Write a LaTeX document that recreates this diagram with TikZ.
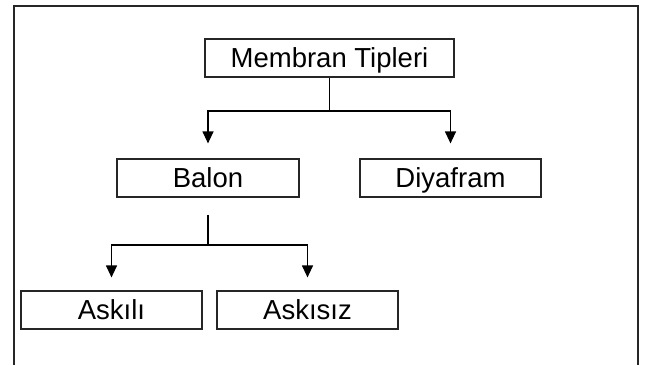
\documentclass[tikz,border=0pt]{standalone}
\usepackage{fontspec}
\setmainfont{Liberation Sans}
\usetikzlibrary{arrows.meta}
\begin{document}
\begin{tikzpicture}[x=1pt,y=-1pt,
  box/.style={draw=black!85, line width=1.2pt, rectangle, minimum height=38pt, inner sep=0pt,
    text height=22pt, text depth=2.3pt,
    font=\fontsize{27.5}{32}\selectfont, text=black},
  conn/.style={draw=black, line width=1.2pt},
  arr/.style={conn, -{Triangle[width=11pt,length=12pt]}}]
\useasboundingbox (0,0) rectangle (656,365);
\fill[white] (0,0) rectangle (656,365);
\draw[line width=2pt, black!85] (14,365) -- (14,6) -- (638,6) -- (638,365);
\node[box, minimum width=249pt] (mt) at (329.5,58) {Membran Tipleri};
\node[box, minimum width=182pt] (balon) at (208,178) {Balon};
\node[box, minimum width=181pt] (diy) at (450.5,178) {Diyafram};
\node[box, minimum width=181pt] (ask1) at (111.5,310) {Askılı};
\node[box, minimum width=181pt] (ask2) at (307.5,310) {Askısız};
\coordinate (j1) at (329.5,111);
\coordinate (j2) at (208,245);
\draw[conn] (mt.south) -- (j1);
\draw[arr, shorten >=15pt] (j1) -| (balon.north);
\draw[arr, shorten >=15pt] (j1) -| (diy.north);
\draw[conn, shorten <=17pt] (balon.south) -- (j2);
\draw[arr, shorten >=13pt] (j2) -| (ask1.north);
\draw[arr, shorten >=13pt] (j2) -| (ask2.north);
\end{tikzpicture}
\end{document}
